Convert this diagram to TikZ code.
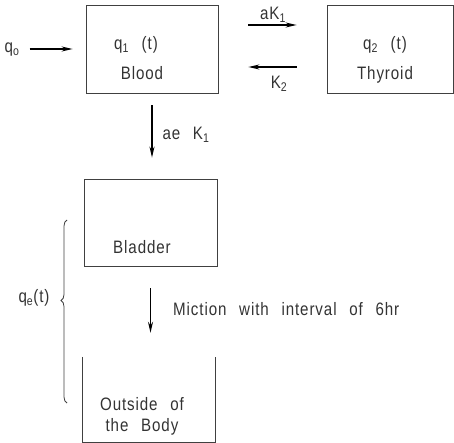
\documentclass[tikz,border=0pt]{standalone}
\usepackage{fontspec}
\setmainfont[FakeStretch=0.84,LetterSpace=5,WordSpace=2.5]{Liberation Sans}
\usetikzlibrary{arrows.meta}
\usetikzlibrary{decorations.pathreplacing}

\begin{document}
\begin{tikzpicture}[x=1pt,y=-1pt,
	box/.style={draw=black!75,line width=0.8pt,minimum height=88pt,inner sep=0pt},
	txt/.style={inner sep=0pt,text=black!80,font=\fontsize{18}{21}\selectfont},
	flow/.style={draw=black,line width=1.4pt,-{Stealth[length=11pt,width=5pt]}}]
	\useasboundingbox (0,0) rectangle (454,443);
	% compartments
	\node [box,minimum width=132pt] (blood) at (152,49) {};
	\node [box,minimum width=126pt] (thyroid) at (390,49) {};
	\node [box,minimum width=133pt,minimum height=87pt] (bladder) at (150.5,222.5) {};
	\node [minimum width=132pt,minimum height=85pt,inner sep=0pt] (outside) at (149,399.5) {};
	\draw [draw=black!75,line width=0.8pt] (outside.north west) -- (outside.south west) -- (outside.south east) -- (outside.north east);
	\node [txt] (q1) at (136,45) {q\textsubscript{1} (t)};
	\node [txt] (bloodlbl) at (142,73) {Blood};
	\node [txt] (q2) at (385,45) {q\textsubscript{2} (t)};
	\node [txt] (thyroidlbl) at (385,75) {Thyroid};
	\node [txt] (bladderlbl) at (142,247) {Bladder};
	\node [txt,align=center] (outsidelbl) at (142,416) {Outside of\\the Body};
	\node [txt] (q0) at (12,50) {q\textsubscript{o}};
	\node [txt] (qe) at (34,298) {q\textsubscript{e}(t)};
	% flows
	\draw [flow,shorten <=10pt,shorten >=13pt] (q0.east |- blood.west) -- (blood.west);
	\draw [flow,shorten <=30pt,shorten >=30pt] ([yshift=24pt]blood.east) -- ([yshift=24pt]thyroid.west);
	\draw [flow,shorten <=30pt,shorten >=30pt] ([yshift=-18pt]thyroid.west) -- ([yshift=-18pt]blood.east);
	\node [txt] (ak1) at (273,15) {aK\textsubscript{1}};
	\node [txt] (k2) at (279,84) {K\textsubscript{2}};
	\draw [flow,shorten <=12pt,shorten >=21pt] (blood.south) -- (blood.south |- bladder.north);
	\node [txt] (aek1) at (186,135) {ae K\textsubscript{1}};
	\draw [flow,shorten <=22pt,shorten >=24pt] (bladder.south) -- (bladder.south |- outside.north);
	\node [txt,anchor=west] (miction) at (173,309) {Miction with interval of 6hr};
	\draw [draw=black!75,line width=0.8pt,decorate,decoration={brace,amplitude=6pt,aspect=0.56}] (67,403) -- (67,220);
\end{tikzpicture}
\end{document}
